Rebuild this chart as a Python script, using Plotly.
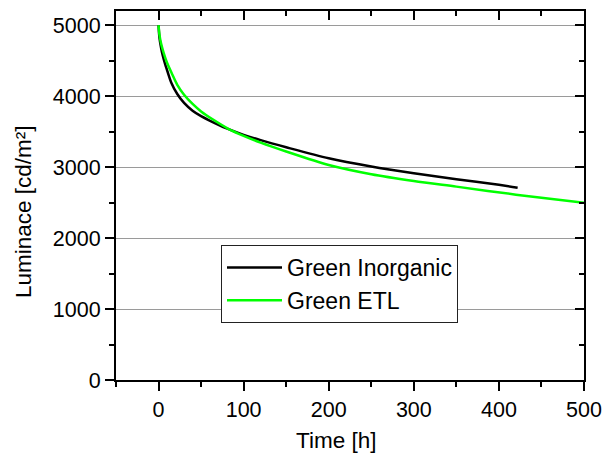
import plotly.graph_objects as go

# Data
inorg_t = [0, 1, 3, 5, 8, 11, 15, 22, 30, 40, 50, 60, 80, 100, 120, 150, 200, 250, 300, 350, 400, 422]
inorg_L = [5000, 4830, 4680, 4570, 4440, 4330, 4190, 4030, 3905, 3795, 3718, 3656, 3545, 3455,
           3380, 3280, 3125, 3010, 2915, 2830, 2750, 2708]

etl_t = [0, 1, 3, 6, 10, 16, 22, 30, 40, 50, 64, 82, 100, 120, 150, 200, 250, 300, 350, 420, 500]
etl_L = [5000, 4870, 4740, 4610, 4470, 4310, 4160, 4020, 3890, 3785, 3670, 3540, 3440, 3345,
         3220, 3030, 2900, 2805, 2725, 2612, 2497]

series_names = ["Green Inorganic", "Green ETL"]
x_title = "Time [h]"
y_title = "Luminace [cd/m²]"
x_range = [-50, 500]
y_range = [0, 5200]

FONT = "Arial, Liberation Sans, sans-serif"
TICK_SIZE = 21.5
TITLE_SIZE = 22.5
LEGEND_SIZE = 23

L, R, T, B = 116, 21, 11, 77
W, H = 605, 457
PW, PH = W - L - R, H - T - B

fig = go.Figure()
fig.add_trace(go.Scatter(x=inorg_t, y=inorg_L, mode="lines", name=series_names[0],
                         line=dict(color="black", width=2.5, shape="spline", smoothing=0.8)))
fig.add_trace(go.Scatter(x=etl_t, y=etl_L, mode="lines", name=series_names[1],
                         line=dict(color="#00ff00", width=2.5, shape="spline", smoothing=0.8)))
# invisible trace to activate mirror axes (top/right with inward ticks)
fig.add_trace(go.Scatter(x=[x_range[0]], y=[y_range[0]], xaxis="x2", yaxis="y2",
                         mode="markers", marker=dict(opacity=0), showlegend=False,
                         hoverinfo="skip"))

fig.update_layout(
    width=W, height=H,
    margin=dict(l=L, r=R, t=T, b=B),
    paper_bgcolor="white", plot_bgcolor="white",
    font=dict(family=FONT, size=TICK_SIZE, color="black"),
    showlegend=True,
    legend=dict(x=(221 - L) / PW, y=(T + PH - 245) / PH, xanchor="left", yanchor="top",
                bordercolor="#222222", borderwidth=1, bgcolor="white",
                font=dict(family=FONT, size=LEGEND_SIZE), itemwidth=55,
                tracegroupgap=0),
    xaxis=dict(range=x_range, tick0=0, dtick=100, ticks="outside", ticklen=9,
               tickwidth=2, tickcolor="black", showline=True, linecolor="black",
               linewidth=2, showgrid=False, zeroline=False, automargin=False,
               minor=dict(dtick=50, tick0=0, ticks="outside", ticklen=5, tickwidth=2, tickcolor="black"),
               tickfont=dict(size=TICK_SIZE)),
    yaxis=dict(range=y_range, tick0=0, dtick=1000, ticks="outside", ticklen=9,
               tickwidth=2, tickcolor="black", showline=True, linecolor="black",
               linewidth=2, showgrid=True, gridcolor="#9a9a9a", gridwidth=1.2,
               zeroline=False, automargin=False, ticklabelstandoff=0,
               minor=dict(dtick=500, tick0=0, ticks="outside", ticklen=5, tickwidth=2, tickcolor="black",
                          showgrid=False),
               tickfont=dict(size=TICK_SIZE)),
    xaxis2=dict(range=x_range, overlaying="x", side="top", tick0=0, dtick=100,
                ticks="inside", ticklen=9, tickwidth=2, tickcolor="black",
                showticklabels=False, showline=True, linecolor="black", linewidth=2,
                showgrid=False, zeroline=False, automargin=False,
                minor=dict(dtick=50, tick0=0, ticks="inside", ticklen=5, tickwidth=2, tickcolor="black")),
    yaxis2=dict(range=y_range, overlaying="y", side="right", tick0=0, dtick=1000,
                ticks="inside", ticklen=9, tickwidth=2, tickcolor="black",
                showticklabels=False, showline=True, linecolor="black", linewidth=2,
                showgrid=False, zeroline=False, automargin=False,
                minor=dict(dtick=500, tick0=0, ticks="inside", ticklen=5, tickwidth=2, tickcolor="black")),
    annotations=[
        dict(text=x_title, xref="paper", yref="paper",
             x=(336 - L) / PW, y=-(440 - (T + PH)) / PH,
             xanchor="center", yanchor="middle", showarrow=False,
             font=dict(family=FONT, size=TITLE_SIZE)),
        dict(text=y_title, xref="paper", yref="paper", textangle=-90,
             x=(23 - L) / PW, y=(T + PH - 212) / PH,
             xanchor="center", yanchor="middle", showarrow=False,
             font=dict(family=FONT, size=TITLE_SIZE)),
    ],
)

fig.write_html("out.html")
